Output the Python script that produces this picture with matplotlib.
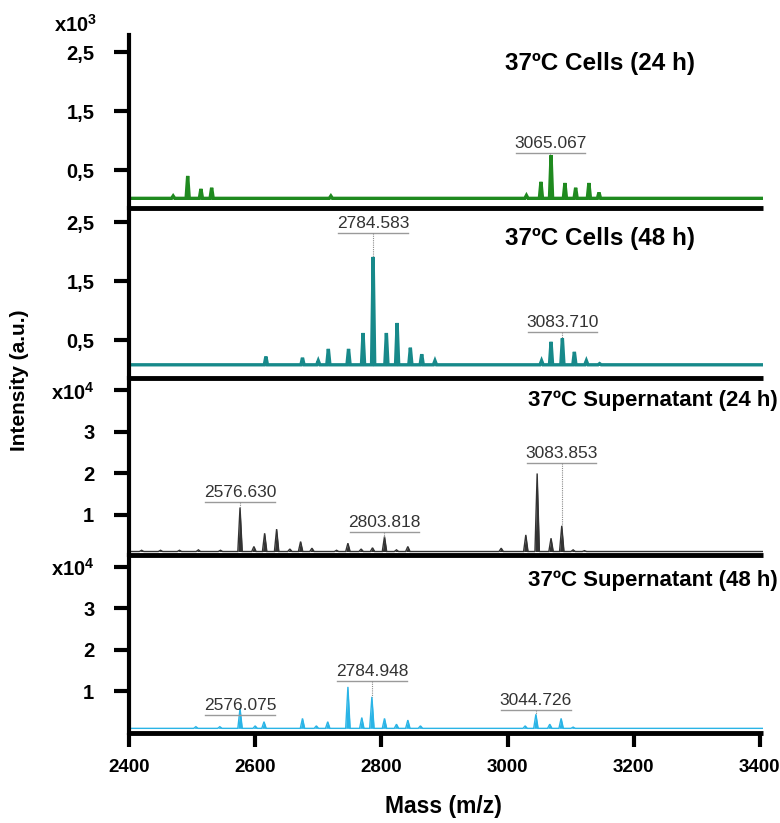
import matplotlib
matplotlib.use("Agg")
import matplotlib.pyplot as plt

# ---- data (m/z, peak top) ----
# 37ºC Cells (24 h), intensity x10^3
mz_cells24 = [2470, 2493, 2514, 2531, 2720, 3030, 3053, 3069, 3091, 3108, 3129, 3145]
int_cells24 = [0.06, 0.40, 0.18, 0.20, 0.06, 0.07, 0.30, 0.75, 0.28, 0.20, 0.28, 0.12]

# 37ºC Cells (48 h), intensity x10^3
mz_cells48 = [2617, 2675, 2700, 2716, 2748, 2771, 2787, 2808, 2825,
              2846, 2864, 2885, 3054, 3069, 3087, 3106, 3125, 3146]
int_cells48 = [0.22, 0.20, 0.15, 0.35, 0.35, 0.62, 1.91, 0.62, 0.79,
               0.37, 0.26, 0.15, 0.15, 0.47, 0.53, 0.30, 0.15, 0.10]

# 37ºC Supernatant (24 h), intensity x10^4
mz_sup24 = [2420, 2450, 2480, 2510, 2545, 2576, 2598, 2615, 2634, 2655, 2672,
            2690, 2729, 2747, 2768, 2786, 2805, 2824, 2842, 2990, 3029, 3047,
            3069, 3086, 3104, 3122]
int_sup24 = [0.15, 0.15, 0.15, 0.16, 0.15, 1.18, 0.24, 0.56, 0.66, 0.18, 0.36,
             0.20, 0.15, 0.32, 0.18, 0.21, 0.48, 0.16, 0.24, 0.20, 0.52, 2.00,
             0.44, 0.74, 0.16, 0.14]

# 37ºC Supernatant (48 h), intensity x10^4
mz_sup48 = [2506, 2544, 2576, 2600, 2614, 2675, 2697, 2715, 2747, 2769, 2785,
            2805, 2824, 2842, 2862, 3028, 3045, 3067, 3085, 3104]
int_sup48 = [0.14, 0.14, 0.58, 0.16, 0.26, 0.34, 0.16, 0.26, 1.10, 0.36, 0.86,
             0.34, 0.20, 0.30, 0.16, 0.16, 0.44, 0.20, 0.34, 0.13]

# annotated peaks: label text, m/z, underline height, peak top
labels_cells24 = [("3065.067", 3068, 0.79, 0.75)]
labels_cells48 = [("2784.583", 2787, 2.31, 1.91), ("3083.710", 3087, 0.64, 0.53)]
labels_sup24 = [("2576.630", 2576, 1.32, 1.18), ("2803.818", 2805, 0.60, 0.48),
                ("3083.853", 3086, 2.26, 0.74)]
labels_sup48 = [("2576.075", 2576, 0.42, 0.42), ("2784.948", 2785, 1.24, 0.86),
                ("3044.726", 3045, 0.54, 0.44)]

titles = ["37ºC Cells (24 h)", "37ºC Cells (48 h)",
          "37ºC Supernatant (24 h)", "37ºC Supernatant (48 h)"]
xticks = [2400, 2600, 2800, 3000, 3200, 3400]

plt.rcParams["font.family"] = ["Liberation Sans", "DejaVu Sans"]
plt.rcParams["mathtext.fontset"] = "custom"
plt.rcParams["mathtext.rm"] = "Liberation Sans"
plt.rcParams["mathtext.bf"] = "Liberation Sans:bold"


def profile(centers, heights, base, hw):
    # spectrum as sharp peaks sitting on a flat baseline
    xs, ys = [2400], [base]
    for c, h in sorted(zip(centers, heights)):
        xs += [c - hw, c, c + hw]
        ys += [base, h, base]
    xs.append(3405)
    ys.append(base)
    return xs, ys


W, H = 780, 823
fig = plt.figure(figsize=(W / 100, H / 100), dpi=100)

rows = [(35, 208), (208, 378), (378, 555), (555, 733)]
panels = [
    (mz_cells24, int_cells24, labels_cells24, "#1f8a1f", 0.02, 2.5, 2.4, (-0.144, 2.79)),
    (mz_cells48, int_cells48, labels_cells48, "#17898a", 0.08, 2.5, 2.4, (-0.144, 2.74)),
    (mz_sup24, int_sup24, labels_sup24, "#333333", 0.12, 3.5, 1.0, (0.036, 4.30)),
    (mz_sup48, int_sup48, labels_sup48, "#2ab4e6", 0.10, 3.5, 1.0, (-0.012, 4.28)),
]
title_pos = [(3297, 2.31), (3297, 2.23), (3428, 3.77), (3428, 3.67)]
title_size = [17.5, 17.5, 16, 16]

left = 129 / W
width = (763 - 129) / W
for i, ((top, bot), (mz, inten, labs, col, base, hw, lw, ylim)) in enumerate(zip(rows, panels)):
    ax = fig.add_axes([left, 1 - bot / H, width, (bot - top) / H])
    ax.patch.set_visible(False)  # keep the thick separators fully visible
    xs, ys = profile(mz, inten, base, hw)
    ax.fill_between(xs, base, ys, color=col, lw=0)
    ax.plot(xs, ys, color=col, lw=lw, solid_joinstyle="miter")
    ax.set_xlim(2400, 3405)
    ax.set_ylim(*ylim)

    for text, x, yu, ytop in labs:
        ax.plot([x - 55, x + 55], [yu, yu], color="#9a9a9a", lw=1)
        if yu > ytop:
            ax.plot([x, x], [yu, ytop], color="#8a8a8a", lw=0.8, ls=(0, (1, 1)))
        ax.annotate(text, (x, yu), xytext=(0, 1.5), textcoords="offset points",
                    ha="center", va="bottom", fontsize=12.5, color="#333333")

    tx, ty = title_pos[i]
    ax.text(tx, ty, titles[i], ha="right", va="center", fontsize=title_size[i],
            fontweight="bold", clip_on=False)

    for s in ["top", "right"]:
        ax.spines[s].set_visible(False)
    ax.spines["left"].set_linewidth(3)
    ax.spines["bottom"].set_linewidth(3.5)
    ax.spines["bottom"].set_capstyle("butt")

    if i < 2:
        ax.set_yticks([0.5, 1.5, 2.5])
        ax.set_yticklabels(["0,5", "1,5", "2,5"])
    else:
        ax.set_yticks([1, 2, 3, 4])
        ax.set_yticklabels(["1", "2", "3", r"x10$^{\mathbf{4}}$"])
    ax.tick_params(axis="y", length=11, width=3, pad=14, labelsize=14.5)
    for t in ax.get_yticklabels():
        t.set_fontweight("bold")

    if i < 3:
        ax.set_xticks([])
    else:
        ax.set_xticks(xticks)
        ax.set_xticklabels([str(v) for v in xticks], fontweight="bold", fontsize=13.5)
        ax.tick_params(axis="x", length=10, width=3, pad=9)

fig.text(97 / W, 1 - 25 / H, r"x10$^{\mathbf{3}}$", ha="right", va="center",
         fontsize=14.5, fontweight="bold")
fig.text(20 / W, 1 - 380 / H, "Intensity (a.u.)", rotation=90, ha="center",
         va="center", fontsize=15, fontweight="bold")
fig.text(443 / W, 1 - 806 / H, "Mass (m/z)", ha="center", va="center",
         fontsize=16.5, fontweight="bold")

fig.savefig("out.png", dpi=100)
